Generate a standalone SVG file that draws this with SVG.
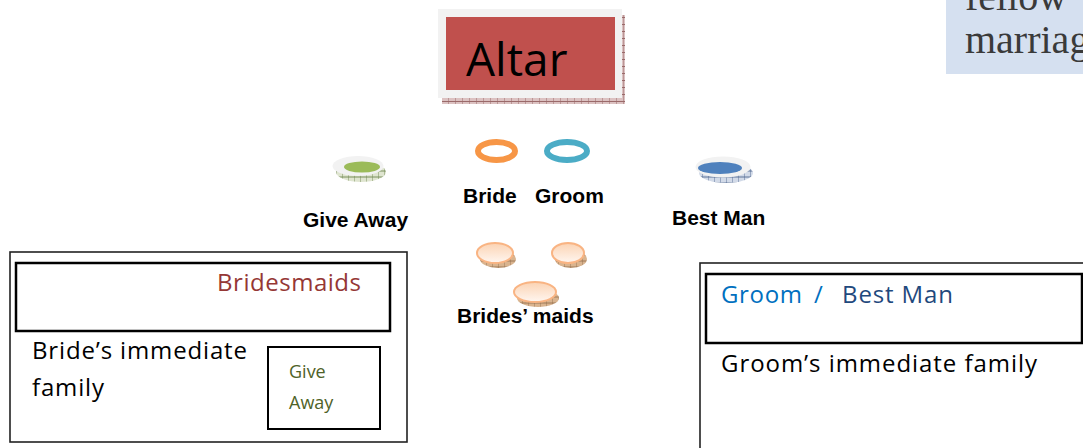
<svg xmlns="http://www.w3.org/2000/svg" width="1083" height="448" viewBox="0 0 1083 448">
<style>
.lbl{font-family:"Liberation Sans",Arial,sans-serif;font-weight:bold;font-size:21px;fill:#000}
.cal{font-family:"Open Sans","Liberation Sans",sans-serif}
.box{fill:none;stroke:#222;stroke-width:1.6}
.inbox{fill:none;stroke:#000;stroke-width:2.5}
</style>
<defs>
<pattern id="hatchRed" width="7" height="7" patternUnits="userSpaceOnUse">
<rect width="7" height="7" fill="#dcc2c2"/>
<path d="M0 0V7M0 3.5H7" stroke="#9a6a6a" stroke-width="1"/>
</pattern>
<pattern id="hatchTan" width="6" height="6" patternUnits="userSpaceOnUse">
<rect width="6" height="6" fill="#d9b48f"/>
<path d="M0 0V6M0 3H6" stroke="#8f6a48" stroke-width="0.8"/>
</pattern>
<pattern id="hatchGreen" width="6" height="6" patternUnits="userSpaceOnUse">
<rect width="6" height="6" fill="#dfe5d0"/>
<path d="M0 0V6M0 3H6" stroke="#6f8550" stroke-width="0.9"/>
</pattern>
<pattern id="hatchBlue" width="6" height="6" patternUnits="userSpaceOnUse">
<rect width="6" height="6" fill="#d2dae8"/>
<path d="M0 0V6M0 3H6" stroke="#4f6690" stroke-width="0.9"/>
</pattern>
<linearGradient id="peach" x1="0" y1="0" x2="0" y2="1">
<stop offset="0" stop-color="#fbd3b3"/>
<stop offset="1" stop-color="#fff6f0"/>
</linearGradient>
</defs>
<rect width="1083" height="448" fill="#fff"/>

<g id="note">
<rect x="946" y="-5" width="140" height="79" fill="#d5e0f0"/>
<text x="965" y="10" font-family="'Liberation Serif','Times New Roman',serif" font-size="40" fill="#3a3a3a">fellow</text>
<text x="965" y="53" font-family="'Liberation Serif','Times New Roman',serif" font-size="40" fill="#3a3a3a">marriag</text>
</g>

<g id="altar">
<rect x="442" y="15" width="183" height="89" fill="url(#hatchRed)"/>
<rect x="438" y="9" width="184" height="89" fill="#f2f2f2"/>
<rect x="446" y="17" width="169" height="73" fill="#c0504d"/>
<text x="466" y="76" class="cal" font-size="46" fill="#000">Altar</text>
</g>

<g id="bride">
<ellipse cx="496.5" cy="151" rx="18.5" ry="9" fill="none" stroke="#f79646" stroke-width="6"/>
<text x="463" y="203" class="lbl">Bride</text>
</g>

<g id="groom">
<ellipse cx="567" cy="151" rx="20" ry="9" fill="none" stroke="#4bacc6" stroke-width="6"/>
<text x="535" y="203" class="lbl">Groom</text>
</g>

<g id="give-away">
<ellipse cx="361" cy="172" rx="25" ry="10" fill="url(#hatchGreen)"/>
<ellipse cx="358" cy="166" rx="25.5" ry="10" fill="#f2f2f2"/>
<ellipse cx="362" cy="167" rx="18" ry="5.5" fill="#9bbb59"/>
<text x="303" y="227" class="lbl">Give Away</text>
</g>

<g id="best-man">
<ellipse cx="726" cy="173" rx="27" ry="10" fill="url(#hatchBlue)"/>
<ellipse cx="723" cy="167" rx="27.5" ry="10.5" fill="#f2f2f2"/>
<ellipse cx="720" cy="168" rx="22" ry="6" fill="#4f81bd"/>
<text x="672" y="225" class="lbl">Best Man</text>
</g>

<g id="brides-maids">
<ellipse cx="498" cy="259" rx="18" ry="9" fill="url(#hatchTan)"/>
<ellipse cx="495" cy="253" rx="18" ry="10" fill="url(#peach)" stroke="#f9b483" stroke-width="2"/>
<ellipse cx="571" cy="259" rx="16" ry="9" fill="url(#hatchTan)"/>
<ellipse cx="568" cy="253" rx="16" ry="10" fill="url(#peach)" stroke="#f9b483" stroke-width="2"/>
<ellipse cx="538" cy="298" rx="21" ry="9" fill="url(#hatchTan)"/>
<ellipse cx="535" cy="292" rx="21" ry="10" fill="url(#peach)" stroke="#f9b483" stroke-width="2"/>
<text x="457" y="323" class="lbl">Brides’ maids</text>
</g>

<g id="bride-family">
<rect x="10" y="252" width="397" height="190" class="box"/>
<text x="32" y="359" class="cal" font-size="24" fill="#000" textLength="215" lengthAdjust="spacing">Bride’s immediate</text>
<text x="32" y="396" class="cal" font-size="24" fill="#000" textLength="72" lengthAdjust="spacing">family</text>
</g>

<g id="bridesmaids-box">
<rect x="16" y="263" width="374" height="68" class="inbox"/>
<text x="217" y="291" class="cal" font-size="24" fill="#953735" textLength="144" lengthAdjust="spacing">Bridesmaids</text>
</g>

<g id="give-away-box">
<rect x="268" y="347" width="112" height="82" fill="none" stroke="#000" stroke-width="2"/>
<text x="289" y="378" class="cal" font-size="18" fill="#4f6228">Give</text>
<text x="289" y="409" class="cal" font-size="18" fill="#4f6228">Away</text>
</g>

<g id="groom-family">
<rect x="700" y="263" width="400" height="200" class="box"/>
<text x="721" y="372" class="cal" font-size="24" fill="#000" textLength="316" lengthAdjust="spacing">Groom’s immediate family</text>
</g>

<g id="groom-bestman-box">
<rect x="706" y="274" width="376" height="69" class="inbox"/>
<text x="721" y="303" class="cal" font-size="24" fill="#0070c0" textLength="81" lengthAdjust="spacing">Groom</text>
<text x="814" y="303" class="cal" font-size="24" fill="#0070c0">/</text>
<text x="842" y="303" class="cal" font-size="24" fill="#1f497d" textLength="111" lengthAdjust="spacing">Best Man</text>
</g>

<g id="connectors"/>
</svg>
